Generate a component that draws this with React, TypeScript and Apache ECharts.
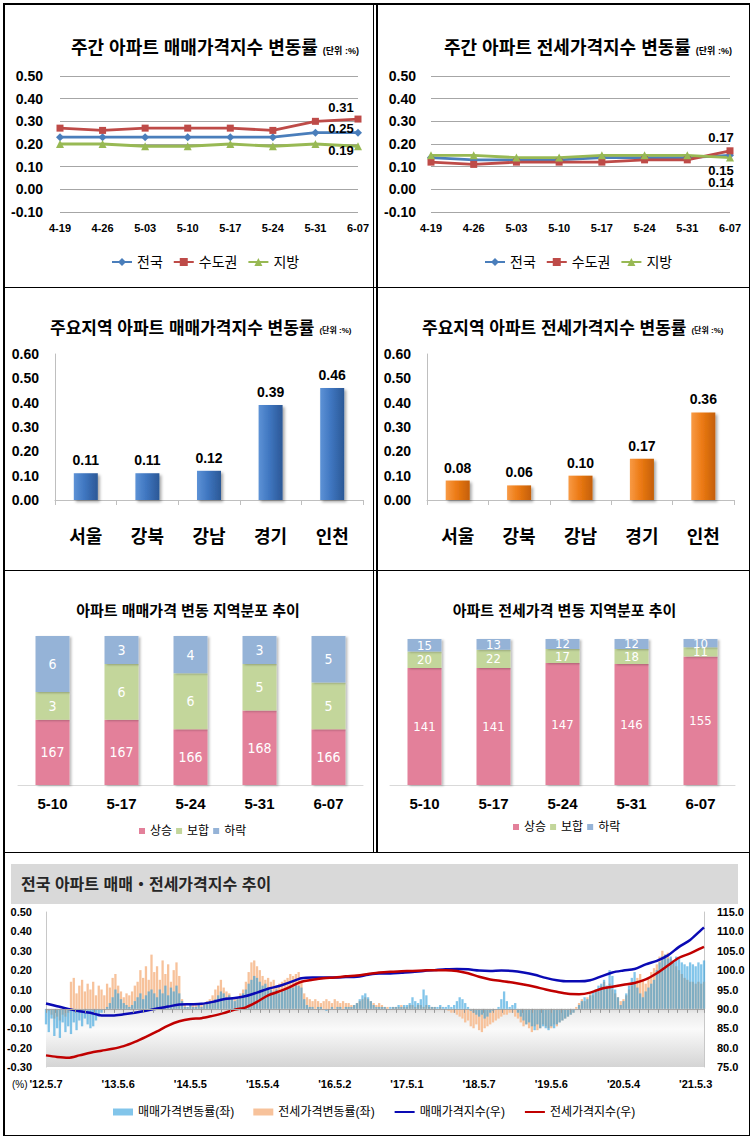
import React, { useEffect, useRef } from 'react';
import * as echarts from 'echarts';

const KR = "'Liberation Sans', 'Noto Sans CJK KR', sans-serif";
const NARROW = "'Liberation Sans Narrow', 'DejaVu Sans Condensed', 'Arial Narrow', 'Liberation Sans', sans-serif";

// ---- weekly change (top row) ----
const WEEKS = ['4-19', '4-26', '5-03', '5-10', '5-17', '5-24', '5-31', '6-07'];
const SALE_NATION = [0.23, 0.23, 0.23, 0.23, 0.23, 0.23, 0.25, 0.25];
const SALE_METRO = [0.27, 0.26, 0.27, 0.27, 0.27, 0.26, 0.30, 0.31];
const SALE_LOCAL = [0.20, 0.20, 0.19, 0.19, 0.20, 0.19, 0.20, 0.19];
const JEONSE_NATION = [0.14, 0.13, 0.13, 0.13, 0.14, 0.14, 0.14, 0.15];
const JEONSE_METRO = [0.12, 0.11, 0.12, 0.12, 0.12, 0.13, 0.13, 0.17];
const JEONSE_LOCAL = [0.15, 0.15, 0.14, 0.14, 0.15, 0.15, 0.15, 0.14];

// ---- major regions (second row) ----
const REGIONS = ['서울', '강북', '강남', '경기', '인천'];
const REGION_SALE = [0.11, 0.11, 0.12, 0.39, 0.46];
const REGION_JEONSE = [0.08, 0.06, 0.10, 0.17, 0.36];

// ---- distribution (third row) ----
const DIST_WEEKS = ['5-10', '5-17', '5-24', '5-31', '6-07'];
const SALE_UP = [167, 167, 166, 168, 166];
const SALE_FLAT = [3, 6, 6, 5, 5];
const SALE_DOWN = [6, 3, 4, 3, 5];
const JEONSE_UP = [141, 141, 147, 146, 155];
const JEONSE_FLAT = [20, 22, 17, 18, 11];
const JEONSE_DOWN = [15, 13, 12, 12, 10];

// ---- long-term trend (bottom) ; bars every 2 weeks from '12.5.7, lines every 8 weeks ----
const TREND_LABELS = ["'12.5.7", "'13.5.6", "'14.5.5", "'15.5.4", "'16.5.2", "'17.5.1", "'18.5.7", "'19.5.6", "'20.5.4", "'21.5.3"];
const SALE_CHG = [
  -0.08, -0.12, -0.05, -0.14, -0.10, -0.15, -0.07, -0.12, -0.09, -0.13,
  -0.07, -0.11, -0.06, -0.09, -0.05, -0.08, -0.10, -0.09, -0.06, -0.04,
  -0.02, 0.00, 0.01, 0.03, 0.06, 0.10, 0.08, 0.05, 0.03, 0.02,
  0.01, 0.02, 0.04, 0.06, 0.08, 0.05, 0.07, 0.09, 0.10, 0.08,
  0.06, 0.10, 0.08, 0.12, 0.07, 0.11, 0.09, 0.12, 0.08, 0.04,
  0.01, 0.01, 0.02, 0.01, 0.01, 0.02, 0.01, 0.02, 0.03, 0.04,
  0.04, 0.05, 0.07, 0.09, 0.08, 0.06, 0.07, 0.05, 0.04, 0.05,
  0.06, 0.08, 0.10, 0.13, 0.15, 0.17, 0.16, 0.14, 0.12, 0.13,
  0.11, 0.10, 0.09, 0.10, 0.08, 0.09, 0.10, 0.11, 0.12, 0.11,
  0.13, 0.12, 0.11, 0.05, 0.02, 0.01, 0.01, 0.00, 0.01, 0.01,
  0.00, -0.01, 0.00, 0.01, 0.00, 0.01, 0.01, 0.00, 0.01, 0.01,
  0.01, 0.02, 0.03, 0.05, 0.07, 0.08, 0.06, 0.04, 0.02, 0.01,
  0.01, 0.01, 0.01, 0.00, 0.01, 0.01, 0.01, 0.02, 0.01, 0.02,
  0.02, 0.03, 0.06, 0.04, 0.03, 0.05, 0.10, 0.07, 0.02, 0.01,
  0.01, 0.01, 0.02, 0.01, 0.01, 0.02, 0.01, 0.02, 0.04, 0.06,
  0.05, 0.03, 0.01, -0.01, -0.02, -0.03, -0.04, -0.03, -0.05, -0.04,
  -0.02, -0.01, 0.00, 0.01, 0.05, 0.09, 0.04, 0.01, 0.02, 0.03,
  -0.02, -0.04, -0.06, -0.08, -0.07, -0.09, -0.11, -0.08, -0.10, -0.09,
  -0.10, -0.11, -0.09, -0.10, -0.08, -0.07, -0.06, -0.05, -0.04, -0.03,
  -0.02, 0.00, 0.02, 0.04, 0.06, 0.05, 0.07, 0.09, 0.10, 0.12,
  0.13, 0.15, 0.12, 0.20, 0.17, 0.10, 0.06, 0.02, 0.04, 0.08,
  0.12, 0.16, 0.19, 0.11, 0.08, 0.06, 0.09, 0.11, 0.13, 0.15,
  0.20, 0.24, 0.27, 0.28, 0.26, 0.27, 0.25, 0.27, 0.26, 0.24,
  0.23, 0.22, 0.24, 0.23, 0.22, 0.24, 0.23, 0.25,
];
const JEONSE_CHG = [
  0.00, -0.01, -0.03, -0.05, -0.04, -0.06, -0.03, -0.04, -0.02, 0.14,
  0.16, 0.08, 0.12, 0.15, 0.09, 0.13, 0.10, 0.14, 0.07, 0.12,
  0.10, 0.07, 0.13, 0.11, 0.16, 0.18, 0.12, 0.09, 0.06, 0.08,
  0.07, 0.09, 0.12, 0.14, 0.20, 0.16, 0.22, 0.15, 0.28, 0.19,
  0.22, 0.15, 0.25, 0.18, 0.23, 0.14, 0.20, 0.24, 0.17, 0.05,
  0.02, 0.01, 0.02, 0.02, 0.03, 0.02, 0.03, 0.03, 0.04, 0.05,
  0.07, 0.10, 0.12, 0.15, 0.11, 0.09, 0.08, 0.06, 0.05, 0.06,
  0.08, 0.10, 0.14, 0.19, 0.24, 0.25, 0.22, 0.20, 0.17, 0.15,
  0.16, 0.14, 0.15, 0.12, 0.13, 0.14, 0.15, 0.16, 0.18, 0.17,
  0.18, 0.19, 0.14, 0.08, 0.06, 0.05, 0.04, 0.05, 0.04, 0.03,
  0.04, 0.05, 0.04, 0.03, 0.05, 0.04, 0.03, 0.04, 0.03, 0.03,
  0.02, 0.02, 0.03, 0.04, 0.05, 0.06, 0.05, 0.04, 0.03, 0.02,
  0.03, 0.02, 0.01, 0.01, 0.00, 0.01, 0.01, 0.01, 0.02, 0.01,
  0.01, 0.02, 0.02, 0.01, 0.02, 0.02, 0.01, 0.02, 0.01, 0.01,
  0.01, 0.00, 0.01, 0.00, 0.00, -0.01, -0.02, -0.02, -0.03, -0.04,
  -0.05, -0.07, -0.06, -0.09, -0.10, -0.08, -0.11, -0.12, -0.10, -0.09,
  -0.08, -0.07, -0.06, -0.05, -0.04, -0.03, -0.03, -0.02, -0.02, -0.04,
  -0.05, -0.07, -0.09, -0.08, -0.10, -0.12, -0.09, -0.11, -0.10, -0.08,
  -0.09, -0.10, -0.10, -0.08, -0.09, -0.07, -0.06, -0.05, -0.04, -0.03,
  -0.02, 0.01, 0.03, 0.05, 0.04, 0.06, 0.08, 0.07, 0.10, 0.09,
  0.12, 0.14, 0.11, 0.13, 0.10, 0.08, 0.06, 0.04, 0.05, 0.07,
  0.10, 0.12, 0.14, 0.16, 0.18, 0.15, 0.13, 0.16, 0.19, 0.21,
  0.23, 0.27, 0.30, 0.28, 0.29, 0.26, 0.24, 0.22, 0.20, 0.18,
  0.16, 0.15, 0.14, 0.14, 0.13, 0.14, 0.13, 0.14,
];
const SALE_INDEX = [
  91.4, 90.7, 90.0, 89.4, 89.0, 88.3, 88.3, 88.6, 89.0, 89.5,
  90.1, 90.6, 91.1, 91.2, 91.3, 91.8, 92.5, 92.8, 93.3, 94.2,
  95.2, 95.9, 96.9, 97.9, 98.1, 98.1, 98.1, 98.2, 98.3, 98.8,
  99.1, 99.1, 99.3, 99.5, 99.8, 100.0, 100.2, 100.3, 100.2, 99.9,
  99.8, 99.9, 99.8, 99.4, 98.8, 98.0, 97.4, 97.1, 97.1, 97.4,
  98.4, 99.4, 99.9, 100.3, 101.5, 102.4, 103.8, 106.0, 107.8, 110.4,
  111.0,
];
const JEONSE_INDEX = [
  78.0, 77.6, 77.4, 78.0, 78.7, 79.2, 79.7, 80.4, 81.5, 82.8,
  84.2, 85.7, 86.8, 87.4, 87.6, 88.2, 88.9, 89.8, 90.4, 91.8,
  93.5, 94.5, 95.7, 97.0, 97.5, 97.9, 98.1, 98.4, 98.6, 99.0,
  99.4, 99.6, 99.7, 99.8, 99.9, 100.0, 100.0, 99.8, 99.2, 98.3,
  97.6, 97.2, 96.8, 96.3, 95.7, 95.0, 94.4, 93.9, 93.8, 94.2,
  95.2, 95.7, 96.2, 96.7, 97.6, 99.2, 101.2, 103.2, 104.3, 105.7,
  106.0,
];
const LAST_WEEK = 474;

const fmt2 = (v: number) => v.toFixed(2);

function lineOption(p: any) {
  const mk = (name: string, data: number[], color: string, symbol: string, size: number, off: number[]) => ({
    name,
    type: 'line',
    data: data.map((v, i) =>
      i === data.length - 1 ? { value: v, label: { show: true, position: 'inside', offset: off } } : v
    ),
    color,
    symbol,
    symbolSize: size,
    lineStyle: { width: 2.8, color },
    itemStyle: { color },
    label: {
      show: false,
      fontSize: 13,
      fontWeight: 'bold',
      color: '#000',
      fontFamily: KR,
      formatter: (q: any) => fmt2(q.value),
    },
  });
  return {
    animation: false,
    title: {
      text: `{a|${p.title}} {b|(단위 :%)}`,
      left: p.titleLeft,
      top: 30,
      textStyle: {
        rich: {
          a: { fontSize: 18, fontWeight: 'bold', color: '#000', fontFamily: KR, lineHeight: 26 },
          b: { fontSize: 9, fontWeight: 'bold', color: '#000', fontFamily: KR, lineHeight: 26, padding: [5, 0, 0, 0] },
        },
      },
    },
    legend: {
      left: p.legendLeft,
      top: 250,
      itemWidth: 20,
      itemHeight: 10,
      itemGap: 10,
      textStyle: { fontSize: 14, color: '#000', fontFamily: KR },
    },
    grid: { left: p.gridLeft, right: p.gridRight, top: 76, bottom: 75 },
    xAxis: {
      type: 'category',
      data: WEEKS,
      boundaryGap: false,
      axisLine: { show: false },
      axisTick: { show: false },
      axisLabel: { fontSize: 11, fontWeight: 'bold', color: '#000', fontFamily: KR, margin: 10 },
    },
    yAxis: {
      type: 'value',
      min: -0.1,
      max: 0.5,
      interval: 0.1,
      axisLine: { show: false },
      axisTick: { show: false },
      splitLine: { lineStyle: { color: '#a6a6a6', width: 1 } },
      axisLabel: { formatter: fmt2, fontSize: 14, fontWeight: 'bold', color: '#000', fontFamily: KR, margin: p.labelMargin },
    },
    series: [
      mk('전국', p.nation, '#4a7ebb', 'diamond', 8, p.offsets[0]),
      mk('수도권', p.metro, '#be4b48', 'rect', 7, p.offsets[1]),
      mk('지방', p.local, '#98b954', 'triangle', 8, p.offsets[2]),
    ],
  };
}

function regionOption(p: any) {
  return {
    animation: false,
    title: {
      text: `{a|${p.title}} {b|(단위 :%)}`,
      left: p.titleLeft,
      top: 23,
      textStyle: {
        rich: {
          a: { fontSize: 17, fontWeight: 'bold', color: '#000', fontFamily: KR, lineHeight: 26 },
          b: { fontSize: 8, fontWeight: 'bold', color: '#000', fontFamily: KR, lineHeight: 26, padding: [5, 0, 0, 0] },
        },
      },
    },
    grid: { left: p.gridLeft, right: p.gridRight, top: 67, bottom: 70 },
    xAxis: {
      type: 'category',
      data: REGIONS,
      axisLine: { lineStyle: { color: '#bfbfbf' } },
      axisTick: { show: true, length: 5, lineStyle: { color: '#bfbfbf' } },
      axisLabel: { fontSize: 18, fontWeight: 'bold', color: '#000', fontFamily: KR, margin: 28 },
    },
    yAxis: {
      type: 'value',
      min: 0,
      max: 0.6,
      interval: 0.1,
      axisLine: { show: true, lineStyle: { color: '#bfbfbf' } },
      axisTick: { show: false },
      splitLine: { show: false },
      axisLabel: { formatter: fmt2, fontSize: 14, fontWeight: 'bold', color: '#000', fontFamily: KR, margin: 16 },
    },
    series: [
      {
        type: 'bar',
        data: p.values,
        barWidth: 24,
        itemStyle: {
          color: { type: 'linear', x: 0, y: 0, x2: 1, y2: 0, colorStops: p.stops },
          shadowColor: 'rgba(0,0,0,0.35)',
          shadowBlur: 3,
          shadowOffsetX: 2,
          shadowOffsetY: 2,
        },
        label: {
          show: true,
          position: 'top',
          distance: 6,
          fontSize: 14,
          fontWeight: 'bold',
          color: '#000',
          fontFamily: KR,
          formatter: (q: any) => fmt2(q.value),
        },
      },
    ],
  };
}

function distOption(p: any) {
  const seg = (name: string, data: number[], color: string) => ({
    name,
    type: 'bar',
    stack: 'total',
    data,
    barWidth: 34,
    itemStyle: { color, shadowColor: 'rgba(0,0,0,0.25)', shadowBlur: 2, shadowOffsetX: 2, shadowOffsetY: 1 },
    label: {
      show: true,
      position: 'inside',
      color: '#fff',
      fontSize: p.labelSize,
      lineHeight: p.labelSize - 3,
      fontFamily: NARROW,
    },
  });
  return {
    animation: false,
    title: {
      text: p.title,
      left: 'center',
      top: 24,
      textStyle: { fontSize: 15, fontWeight: 'bold', color: '#000', fontFamily: KR, lineHeight: 22 },
    },
    legend: {
      left: p.legendLeft,
      top: p.legendTop,
      icon: 'rect',
      itemWidth: 6,
      itemHeight: 6,
      itemGap: 4,
      textStyle: { fontSize: 12, color: '#000', fontFamily: KR },
    },
    grid: { left: p.gridLeft, right: p.gridRight, top: p.gridTop, bottom: 67 },
    xAxis: {
      type: 'category',
      data: DIST_WEEKS,
      axisLine: { lineStyle: { color: '#d9d9d9' } },
      axisTick: { show: false },
      axisLabel: { fontSize: 15, fontWeight: 'bold', color: '#000', fontFamily: KR, margin: 11 },
    },
    yAxis: { type: 'value', min: p.yMin, max: 176, show: false, splitLine: { show: false } },
    series: [
      seg('상승', p.up, '#e3809a'),
      seg('보합', p.flat, '#c3d69b'),
      seg('하락', p.down, '#95b3d7'),
    ],
  };
}

function trendOption() {
  const barX = (i: number) => i * 2;
  const lineX = (i: number) => Math.min(i * 8, LAST_WEEK);
  const numStyle = { fontSize: 11, fontWeight: 'bold', color: '#000', fontFamily: KR };
  return {
    animation: false,
    graphic: [
      { type: 'rect', shape: { x: 11, y: 12, width: 727, height: 40 }, style: { fill: '#d9d9d9' }, silent: true },
      {
        type: 'text',
        x: 21,
        y: 32,
        style: {
          text: '전국 아파트 매매・전세가격지수 추이',
          fontSize: 16,
          fontWeight: 'bold',
          fontFamily: KR,
          fill: '#262626',
          verticalAlign: 'middle',
        },
      },
      {
        type: 'text',
        x: 12,
        y: 232,
        style: { text: '(%)', fontSize: 10, fontFamily: KR, fill: '#000', verticalAlign: 'middle' },
      },
    ],
    legend: {
      left: 108,
      top: 249,
      itemWidth: 20,
      itemHeight: 7,
      itemGap: 19,
      textStyle: { fontSize: 12, color: '#000', fontFamily: KR },
      data: [
        { name: '매매가격변동률(좌)', icon: 'rect' },
        { name: '전세가격변동률(좌)', icon: 'rect' },
        { name: '매매가격지수(우)', itemStyle: { opacity: 0 } },
        { name: '전세가격지수(우)', itemStyle: { opacity: 0 } },
      ],
    },
    grid: { left: 46, right: 49, top: 60, bottom: 73 },
    xAxis: [
      {
        type: 'value',
        min: 0,
        max: LAST_WEEK,
        interval: 52,
        position: 'bottom',
        axisLine: { show: false, onZero: false },
        axisTick: { show: false },
        splitLine: { show: false },
        axisLabel: {
          ...numStyle,
          margin: 11,
          showMaxLabel: false,
          formatter: (v: number) => (v % 52 === 0 ? TREND_LABELS[v / 52] || '' : ''),
        },
      },
      {
        type: 'value',
        min: 0,
        max: LAST_WEEK,
        interval: 7,
        position: 'bottom',
        z: 5,
        axisLine: { show: true, onZero: true, onZeroAxisIndex: 0, lineStyle: { color: '#a6a6a6', width: 1 } },
        axisTick: { show: true, length: 4, lineStyle: { color: '#9a9a9a' } },
        axisLabel: { show: false },
        splitLine: { show: false },
      },
    ],
    yAxis: [
      {
        type: 'value',
        min: -0.3,
        max: 0.5,
        interval: 0.1,
        axisLine: { show: true, lineStyle: { color: '#c8c8c8' } },
        axisTick: { show: false },
        splitLine: { show: false },
        axisLabel: { ...numStyle, margin: 14, formatter: fmt2 },
      },
      {
        type: 'value',
        min: 75,
        max: 115,
        interval: 5,
        position: 'right',
        axisLine: { show: true, onZero: false, lineStyle: { color: '#c8c8c8' } },
        axisTick: { show: false },
        splitLine: { show: false },
        axisLabel: { ...numStyle, margin: 13, formatter: (v: number) => v.toFixed(1) },
      },
    ],
    series: [
      {
        name: '전세가격변동률(좌)',
        type: 'bar',
        xAxisIndex: 0,
        yAxisIndex: 0,
        barWidth: 2.3,
        data: JEONSE_CHG.map((v, i) => [barX(i), v]),
        itemStyle: { color: '#f7c29b' },
        markArea: {
          silent: true,
          itemStyle: {
            color: {
              type: 'linear',
              x: 0,
              y: 0,
              x2: 0,
              y2: 1,
              colorStops: [
                { offset: 0, color: '#dcdcdc' },
                { offset: 0.08, color: '#ececec' },
                { offset: 0.35, color: '#fafafa' },
                { offset: 1, color: '#d4d4d4' },
              ],
            },
          },
          data: [[{ xAxis: 0, yAxis: 0 }, { xAxis: LAST_WEEK, yAxis: -0.3 }]],
        },
      },
      {
        name: '매매가격변동률(좌)',
        type: 'bar',
        xAxisIndex: 0,
        yAxisIndex: 0,
        barWidth: 2.3,
        barGap: '-100%',
        data: SALE_CHG.map((v, i) => [barX(i), v]),
        itemStyle: { color: '#2f9fdc', opacity: 0.6 },
      },
      {
        name: '매매가격지수(우)',
        type: 'line',
        xAxisIndex: 0,
        yAxisIndex: 1,
        symbol: 'none',
        smooth: 0.3,
        data: SALE_INDEX.map((v, i) => [lineX(i), v]),
        color: '#0a0ab4',
        lineStyle: { width: 2.5, color: '#0a0ab4' },
      },
      {
        name: '전세가격지수(우)',
        type: 'line',
        xAxisIndex: 0,
        yAxisIndex: 1,
        symbol: 'none',
        smooth: 0.3,
        data: JEONSE_INDEX.map((v, i) => [lineX(i), v]),
        color: '#c00000',
        lineStyle: { width: 2.5, color: '#c00000' },
      },
    ],
  };
}

const OPT1 = lineOption({
  title: '주간 아파트 매매가격지수 변동률',
  titleLeft: 66,
  legendLeft: 106,
  gridLeft: 60,
  gridRight: 18,
  labelMargin: 17,
  nation: SALE_NATION,
  metro: SALE_METRO,
  local: SALE_LOCAL,
  offsets: [[-17, -4], [-17, -12], [-17, 4]],
});
const OPT2 = lineOption({
  title: '주간 아파트 전세가격지수 변동률',
  titleLeft: 63,
  legendLeft: 103,
  gridLeft: 55,
  gridRight: 23,
  labelMargin: 15,
  nation: JEONSE_NATION,
  metro: JEONSE_METRO,
  local: JEONSE_LOCAL,
  offsets: [[-9, 15], [-9, -13], [-9, 25]],
});
const OPT3 = regionOption({
  title: '주요지역 아파트 매매가격지수 변동률',
  titleLeft: 45,
  gridLeft: 55,
  gridRight: 13,
  values: REGION_SALE,
  stops: [
    { offset: 0, color: '#5d92d6' },
    { offset: 0.45, color: '#3f76c0' },
    { offset: 1, color: '#2b5896' },
  ],
});
const OPT4 = regionOption({
  title: '주요지역 아파트 전세가격지수 변동률',
  titleLeft: 41,
  gridLeft: 51,
  gridRight: 19,
  values: REGION_JEONSE,
  stops: [
    { offset: 0, color: '#f89a45' },
    { offset: 0.45, color: '#ec7a14' },
    { offset: 1, color: '#c45f06' },
  ],
});
const OPT5 = distOption({
  title: '아파트 매매가격 변동 지역분포 추이',
  up: SALE_UP,
  flat: SALE_FLAT,
  down: SALE_DOWN,
  yMin: 160,
  labelSize: 14,
  gridLeft: 18,
  gridRight: 13,
  gridTop: 66,
  legendLeft: 134,
  legendTop: 250,
});
const OPT6 = distOption({
  title: '아파트 전세가격 변동 지역분포 추이',
  up: JEONSE_UP,
  flat: JEONSE_FLAT,
  down: JEONSE_DOWN,
  yMin: 0,
  labelSize: 13,
  gridLeft: 14,
  gridRight: 18,
  gridTop: 69,
  legendLeft: 132,
  legendTop: 246,
});
const OPT7 = trendOption();

function Chart({ left, top, width, height, option }: any) {
  const ref = useRef<HTMLDivElement>(null);
  useEffect(() => {
    if (!ref.current) return;
    const c = echarts.init(ref.current, undefined, { renderer: 'svg' });
    c.setOption(option);
    return () => c.dispose();
  }, [option]);
  return <div ref={ref} style={{ position: 'absolute', left, top, width, height }} />;
}

const BORDERS = [
  [3, 3, 747, 1.5],
  [3, 3, 1.5, 1133],
  [748.5, 3, 1.5, 1133],
  [3, 1134.5, 747, 1.5],
  [372.5, 3, 1.5, 849],
  [376, 3, 1.5, 849],
  [3, 286.5, 747, 1.5],
  [3, 569.5, 747, 1.5],
  [3, 851.5, 747, 1.5],
];

export default function App() {
  return (
    <div style={{ position: 'absolute', left: 0, top: 0, width: 753, height: 1140, background: '#fff', overflow: 'hidden' }}>
      <Chart left={0} top={0} width={376} height={287} option={OPT1} />
      <Chart left={376} top={0} width={377} height={287} option={OPT2} />
      <Chart left={0} top={287} width={376} height={283} option={OPT3} />
      <Chart left={376} top={287} width={377} height={283} option={OPT4} />
      <Chart left={0} top={570} width={376} height={282} option={OPT5} />
      <Chart left={376} top={570} width={377} height={282} option={OPT6} />
      <Chart left={0} top={852} width={753} height={288} option={OPT7} />
      {BORDERS.map((b, i) => (
        <div
          key={i}
          style={{ position: 'absolute', left: b[0], top: b[1], width: b[2], height: b[3], background: '#000', pointerEvents: 'none' }}
        />
      ))}
    </div>
  );
}
